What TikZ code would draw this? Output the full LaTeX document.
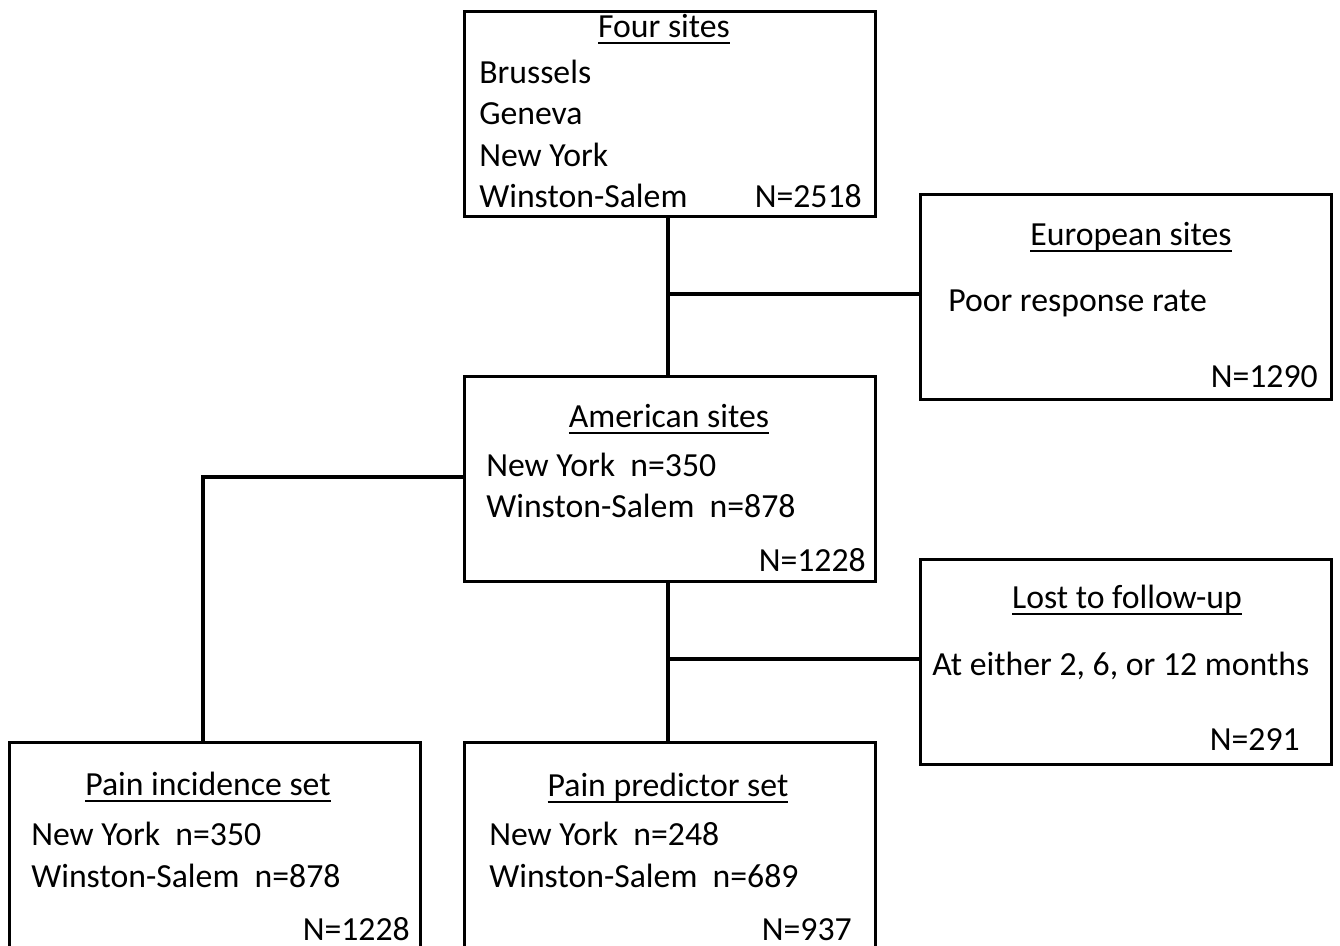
\documentclass[tikz,border=0pt]{standalone}
\usepackage{fontspec}
\setmainfont{Carlito}
\usetikzlibrary{calc}
\newcommand{\ttl}[1]{\setbox0\hbox{#1}\rlap{\rule[-5.4pt]{\wd0}{1.9pt}}\box0}
\begin{document}
\begin{tikzpicture}[x=0.75pt,y=-0.75pt,
  box/.style={draw, line width=2.25pt, rectangle, anchor=north west, minimum width=308pt, minimum height=154pt, inner sep=0pt},
  conn/.style={line width=3.4pt},
  txt/.style={inner sep=0pt, font=\fontsize{25.3}{30}\selectfont},
  lt/.style={txt, anchor=base west},
  rt/.style={txt, anchor=base east},
  ct/.style={txt, anchor=base}]
\useasboundingbox (0,0) rectangle (1340,946);
% boxes
\node[box] (four) at (463,10) {};
\node[box] (euro) at (919,193) {};
\node[box] (amer) at (463,375) {};
\node[box] (lost) at (919,558) {};
\node[box, minimum height=160pt] (inc) at (8,741) {};
\node[box, minimum height=160pt] (pred) at (463,741) {};
% texts: Four sites
\node[ct] (t1) at (664,37) {\ttl{Four sites}};
\node[lt] (t1a) at (479,83) {Brussels};
\node[lt] (t1b) at (479,124) {Geneva};
\node[lt] (t1c) at (479,166) {New York};
\node[lt] (t1d) at (479,207) {Winston-Salem};
\node[rt] (t1n) at (862,207) {N=2518};
% European
\node[ct] (t2) at (1131,245) {\ttl{European sites}};
\node[lt] (t2a) at (948,311) {Poor response rate};
\node[rt] (t2n) at (1318,387) {N=1290};
% American
\node[ct] (t3) at (669,427) {\ttl{American sites}};
\node[lt] (t3a) at (486,476) {New York\ \ n=350};
\node[lt] (t3b) at (486,517) {Winston-Salem\ \ n=878};
\node[rt] (t3n) at (866,571) {N=1228};
% Lost
\node[ct] (t4) at (1127,608) {\ttl{Lost to follow-up}};
\node[lt] (t4a) at (932,675) {At either 2, 6, or 12 months};
\node[rt] (t4n) at (1300,750) {N=291};
% Pain incidence
\node[ct] (t5) at (208,795) {\ttl{Pain incidence set}};
\node[lt] (t5a) at (31,845) {New York\ \ n=350};
\node[lt] (t5b) at (31,887) {Winston-Salem\ \ n=878};
\node[rt] (t5n) at (410,940) {N=1228};
% Pain predictor
\node[ct] (t6) at (668,796) {\ttl{Pain predictor set}};
\node[lt] (t6a) at (489,845) {New York\ \ n=248};
\node[lt] (t6b) at (489,887) {Winston-Salem\ \ n=689};
\node[rt] (t6n) at (852,940) {N=937};
% connectors
\coordinate (j1) at (668,294);
\coordinate (j2) at (668,659);
\coordinate (lk) at (203,477);
\draw[conn] (four.south -| j1) -- (amer.north -| j1);
\draw[conn] (j1) -- (j1 -| euro.west);
\draw[conn] (amer.south -| j2) -- (pred.north -| j2);
\draw[conn] (j2) -- (j2 -| lost.west);
\draw[conn] (lk -| amer.west) -- (lk) -- (lk |- inc.north);
\end{tikzpicture}
\end{document}
